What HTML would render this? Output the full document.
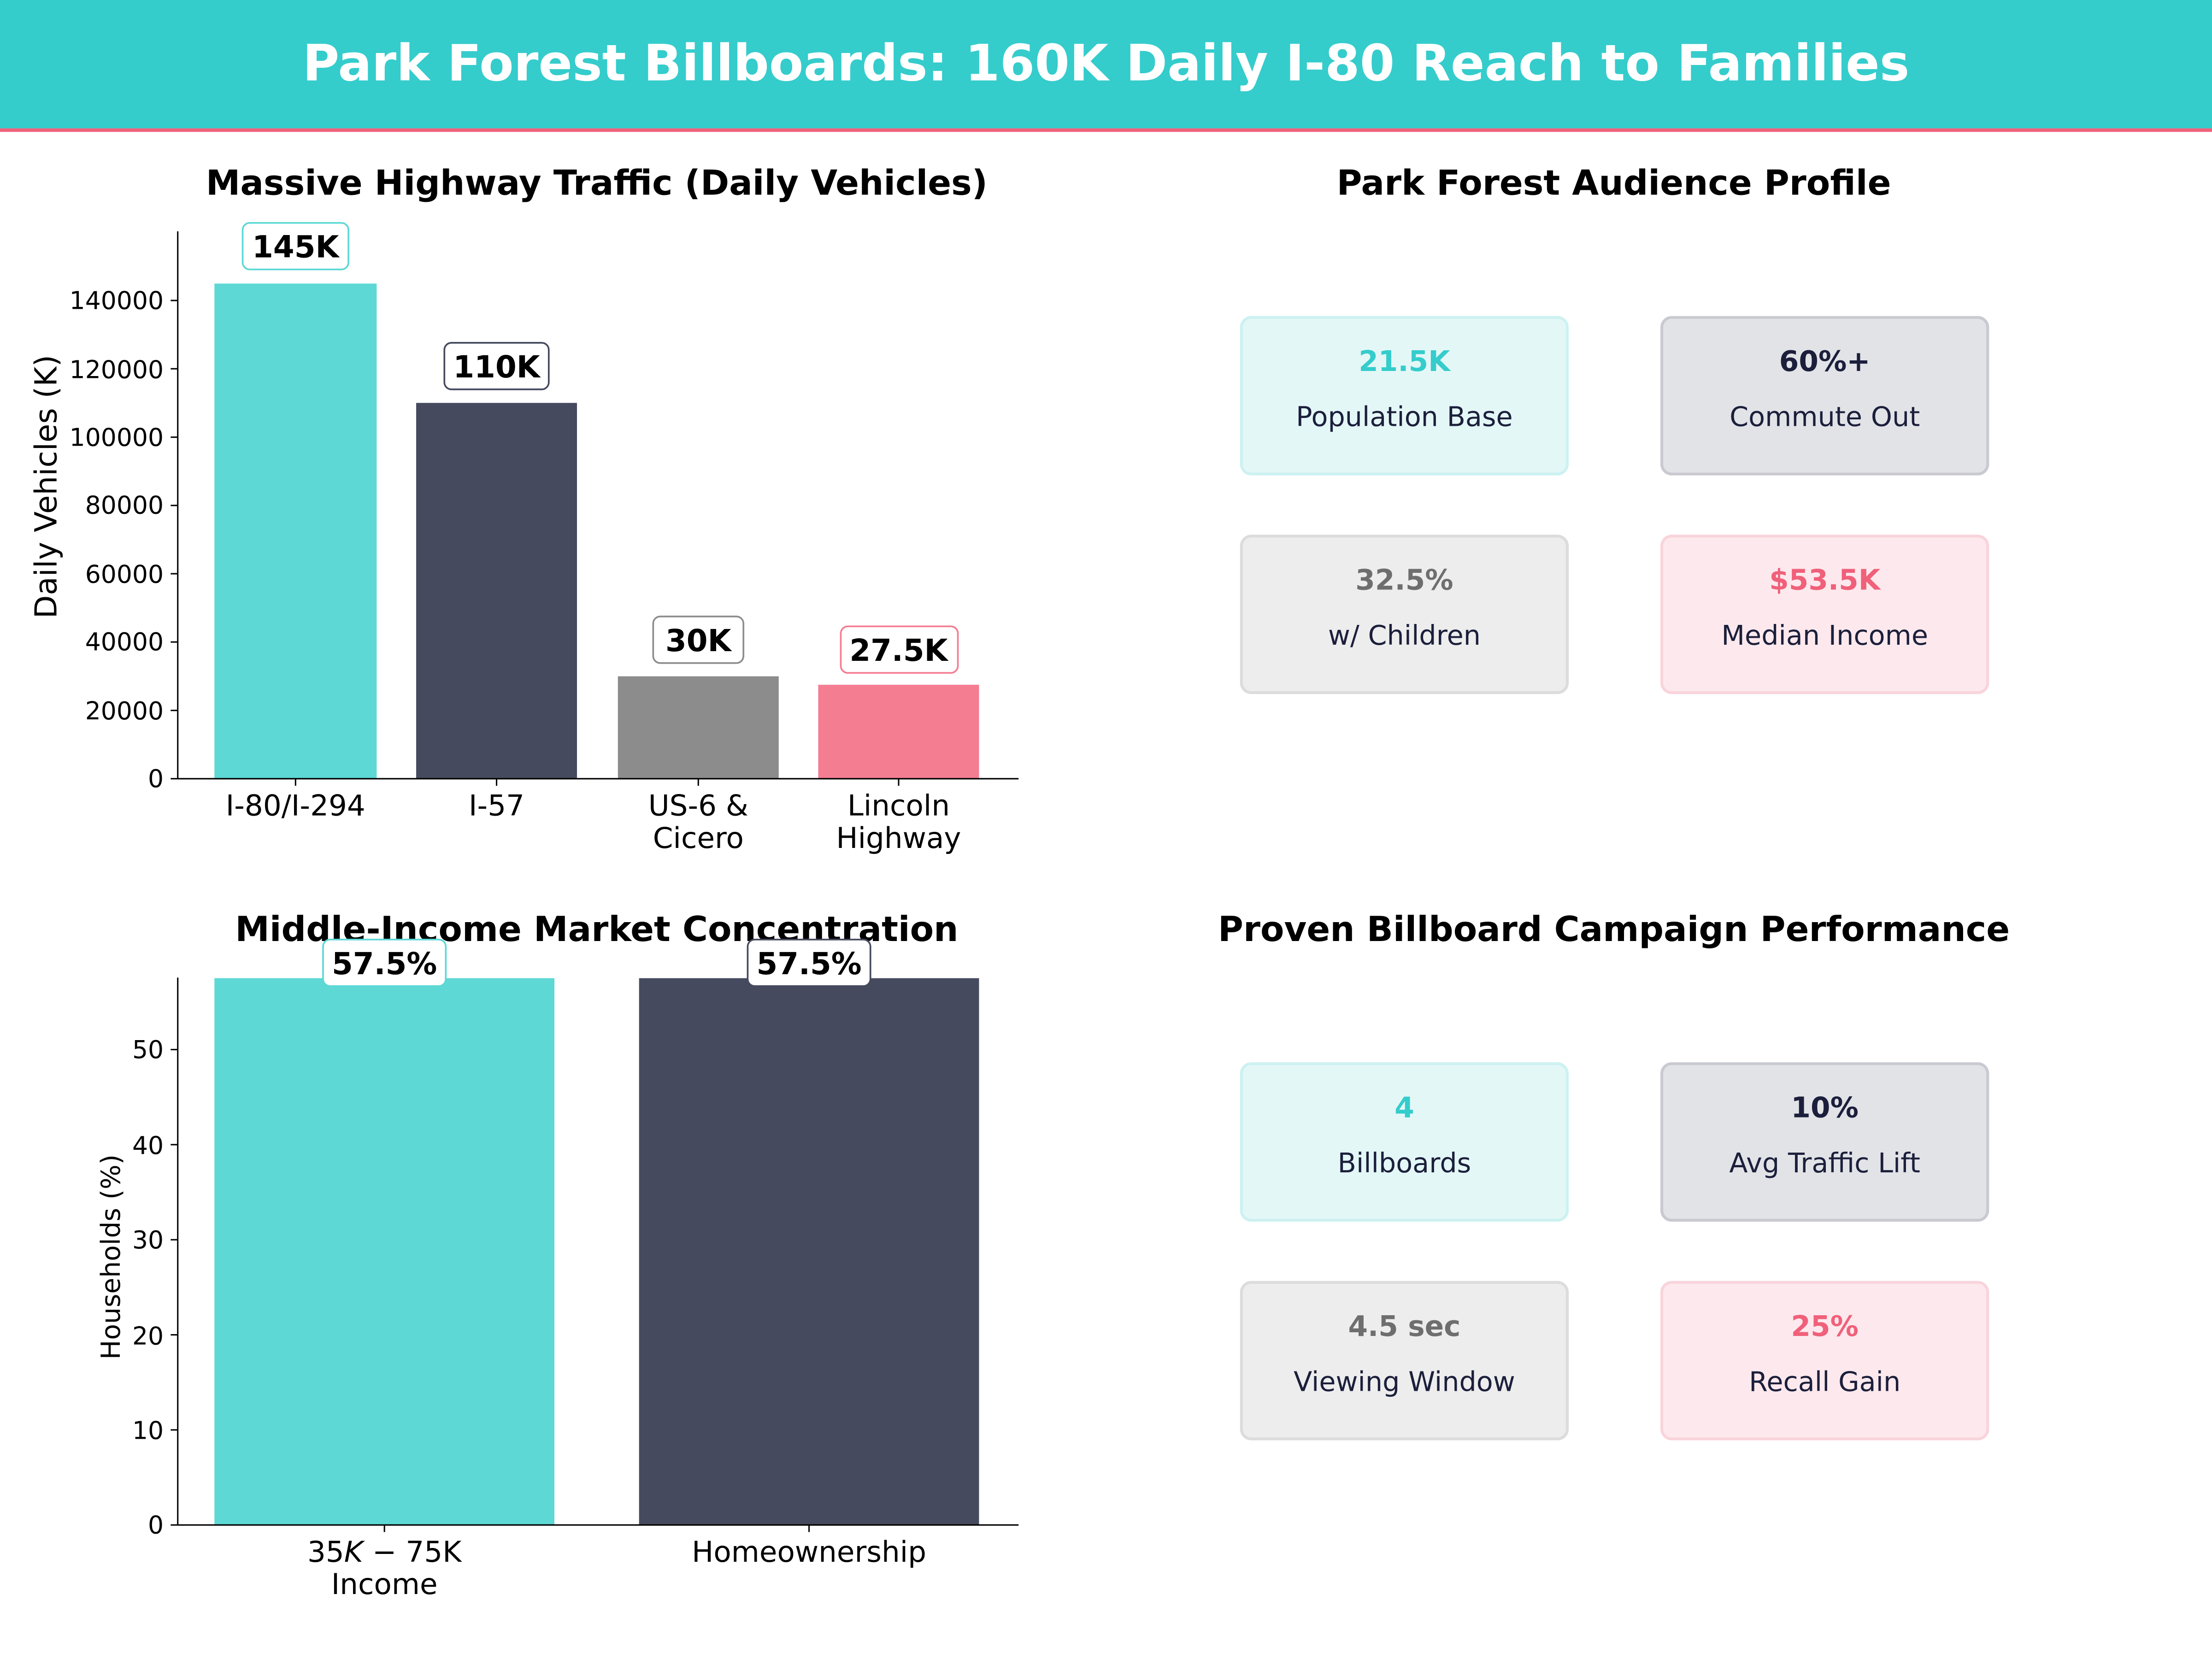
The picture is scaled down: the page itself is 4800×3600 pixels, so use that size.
<!DOCTYPE html>
<html><head><meta charset="utf-8"><style>
html,body{margin:0;padding:0;background:#fff}
svg{display:block}
text{font-family:"DejaVu Sans","Liberation Sans",sans-serif}
</style></head><body>
<svg width="4800" height="3600" viewBox="0 0 1568 1176" xmlns="http://www.w3.org/2000/svg">
<rect width="1568" height="1176" fill="#fff"/>
<rect x="0" y="0" width="1568" height="91" fill="#35CCCC"/>
<rect x="0" y="91" width="1568" height="2.5" fill="#F0607A"/>
<text x="784" y="57" text-anchor="middle" font-size="35.5" font-weight="bold" fill="#fff">Park Forest Billboards: 160K Daily I-80 Reach to Families</text>

<!-- Chart 1 -->
<text x="423" y="138" text-anchor="middle" font-size="24.5" font-weight="bold" fill="#000">Massive Highway Traffic (Daily Vehicles)</text>
<rect x="152" y="201" width="115" height="351" fill="#5DD8D5"/>
<rect x="295" y="285.6" width="114" height="266.4" fill="#464A5F"/>
<rect x="438" y="479.4" width="114" height="72.6" fill="#8C8C8C"/>
<rect x="580" y="485.4" width="114" height="66.6" fill="#F47D92"/>
<line x1="126" y1="164" x2="126" y2="552" stroke="#000" stroke-width="1"/>
<line x1="126" y1="552" x2="722" y2="552" stroke="#000" stroke-width="1"/>
<g font-size="17.5" text-anchor="end" fill="#000">
<text x="116" y="558">0</text><line x1="121" y1="552" x2="126" y2="552" stroke="#000"/>
<text x="116" y="510">20000</text><line x1="121" y1="503.6" x2="126" y2="503.6" stroke="#000"/>
<text x="116" y="461">40000</text><line x1="121" y1="455.1" x2="126" y2="455.1" stroke="#000"/>
<text x="116" y="413">60000</text><line x1="121" y1="406.7" x2="126" y2="406.7" stroke="#000"/>
<text x="116" y="364">80000</text><line x1="121" y1="358.3" x2="126" y2="358.3" stroke="#000"/>
<text x="116" y="316">100000</text><line x1="121" y1="309.9" x2="126" y2="309.9" stroke="#000"/>
<text x="116" y="268">120000</text><line x1="121" y1="261.4" x2="126" y2="261.4" stroke="#000"/>
<text x="116" y="219">140000</text><line x1="121" y1="213" x2="126" y2="213" stroke="#000"/>
</g>
<text transform="translate(40,345) rotate(-90)" text-anchor="middle" font-size="21.5" fill="#000">Daily Vehicles (K)</text>
<g font-size="20.5" text-anchor="middle" fill="#000">
<line x1="209.5" y1="552" x2="209.5" y2="557" stroke="#000"/><text x="209.5" y="578">I-80/I-294</text>
<line x1="352" y1="552" x2="352" y2="557" stroke="#000"/><text x="352" y="578">I-57</text>
<line x1="495" y1="552" x2="495" y2="557" stroke="#000"/><text x="495" y="578">US-6 &amp;</text><text x="495" y="601">Cicero</text>
<line x1="637" y1="552" x2="637" y2="557" stroke="#000"/><text x="637" y="578">Lincoln</text><text x="637" y="601">Highway</text>
</g>
<g font-size="21.5" font-weight="bold" text-anchor="middle" fill="#000">
<rect x="172" y="158" width="75" height="33" rx="5" fill="#fff" stroke="#5DD8D5" stroke-width="1.2"/><text x="209.5" y="182.5">145K</text>
<rect x="315" y="243" width="74" height="33" rx="5" fill="#fff" stroke="#464A5F" stroke-width="1.2"/><text x="352" y="267.5">110K</text>
<rect x="463" y="437" width="64" height="33" rx="5" fill="#fff" stroke="#8C8C8C" stroke-width="1.2"/><text x="495" y="461.5">30K</text>
<rect x="596" y="444" width="83" height="33" rx="5" fill="#fff" stroke="#F47D92" stroke-width="1.2"/><text x="637" y="468.5">27.5K</text>
</g>

<!-- Chart 2 -->
<rect x="152" y="693.4" width="241" height="387.6" fill="#5DD8D5"/>
<rect x="453" y="693.4" width="241" height="387.6" fill="#464A5F"/>
<text x="423" y="667" text-anchor="middle" font-size="24.5" font-weight="bold" fill="#000">Middle-Income Market Concentration</text>
<line x1="126" y1="693" x2="126" y2="1081" stroke="#000"/>
<line x1="126" y1="1081" x2="722" y2="1081" stroke="#000"/>
<g font-size="17.5" text-anchor="end" fill="#000">
<text x="116" y="1087">0</text><line x1="121" y1="1081" x2="126" y2="1081" stroke="#000"/>
<text x="116" y="1020">10</text><line x1="121" y1="1013.6" x2="126" y2="1013.6" stroke="#000"/>
<text x="116" y="953">20</text><line x1="121" y1="946.2" x2="126" y2="946.2" stroke="#000"/>
<text x="116" y="885">30</text><line x1="121" y1="878.8" x2="126" y2="878.8" stroke="#000"/>
<text x="116" y="818">40</text><line x1="121" y1="811.4" x2="126" y2="811.4" stroke="#000"/>
<text x="116" y="750">50</text><line x1="121" y1="744" x2="126" y2="744" stroke="#000"/>
</g>
<text transform="translate(85,891) rotate(-90)" text-anchor="middle" font-size="18.5" fill="#000">Households (%)</text>
<g font-size="20.5" text-anchor="middle" fill="#000">
<line x1="272.5" y1="1081" x2="272.5" y2="1086" stroke="#000"/><text x="272.5" y="1107">35<tspan font-style="italic">K</tspan> − 75K</text><text x="272.5" y="1130">Income</text>
<line x1="573.5" y1="1081" x2="573.5" y2="1086" stroke="#000"/><text x="573.5" y="1107">Homeownership</text>
</g>
<g font-size="21.5" font-weight="bold" text-anchor="middle" fill="#000">
<rect x="229" y="666" width="87" height="33" rx="5" fill="#fff" stroke="#5DD8D5" stroke-width="1.2"/><text x="272.5" y="690.5">57.5%</text>
<rect x="530" y="666" width="87" height="33" rx="5" fill="#fff" stroke="#464A5F" stroke-width="1.2"/><text x="573.5" y="690.5">57.5%</text>
</g>

<!-- Right panels -->
<g text-anchor="middle">
<text x="1144" y="138" font-size="24.5" font-weight="bold" fill="#000">Park Forest Audience Profile</text>
<rect x="880" y="225" width="231" height="111" rx="7" fill="#E4F7F7" stroke="#CDF1F1" stroke-width="2"/>
<rect x="1178" y="225" width="231" height="111" rx="7" fill="#E2E3E7" stroke="#C9CAD1" stroke-width="2"/>
<rect x="880" y="380" width="231" height="111" rx="7" fill="#EDEDED" stroke="#DCDCDC" stroke-width="2"/>
<rect x="1178" y="380" width="231" height="111" rx="7" fill="#FDE9ED" stroke="#F9D4DB" stroke-width="2"/>
<g font-size="20" font-weight="bold">
<text x="995.5" y="263" fill="#35CCCC">21.5K</text>
<text x="1293.5" y="263" fill="#1B1F3B">60%+</text>
<text x="995.5" y="418" fill="#6E6E6E">32.5%</text>
<text x="1293.5" y="418" fill="#F0607A">$53.5K</text>
</g>
<g font-size="19.2" fill="#1B1F3B">
<text x="995.5" y="302">Population Base</text>
<text x="1293.5" y="302">Commute Out</text>
<text x="995.5" y="457">w/ Children</text>
<text x="1293.5" y="457">Median Income</text>
</g>

<text x="1144" y="667" font-size="24.5" font-weight="bold" fill="#000">Proven Billboard Campaign Performance</text>
<rect x="880" y="754" width="231" height="111" rx="7" fill="#E4F7F7" stroke="#CDF1F1" stroke-width="2"/>
<rect x="1178" y="754" width="231" height="111" rx="7" fill="#E2E3E7" stroke="#C9CAD1" stroke-width="2"/>
<rect x="880" y="909" width="231" height="111" rx="7" fill="#EDEDED" stroke="#DCDCDC" stroke-width="2"/>
<rect x="1178" y="909" width="231" height="111" rx="7" fill="#FDE9ED" stroke="#F9D4DB" stroke-width="2"/>
<g font-size="20" font-weight="bold">
<text x="995.5" y="792" fill="#35CCCC">4</text>
<text x="1293.5" y="792" fill="#1B1F3B">10%</text>
<text x="995.5" y="947" fill="#6E6E6E">4.5 sec</text>
<text x="1293.5" y="947" fill="#F0607A">25%</text>
</g>
<g font-size="19.2" fill="#1B1F3B">
<text x="995.5" y="831">Billboards</text>
<text x="1293.5" y="831">Avg Traffic Lift</text>
<text x="995.5" y="986">Viewing Window</text>
<text x="1293.5" y="986">Recall Gain</text>
</g>
</g>
</svg>
</body></html>
